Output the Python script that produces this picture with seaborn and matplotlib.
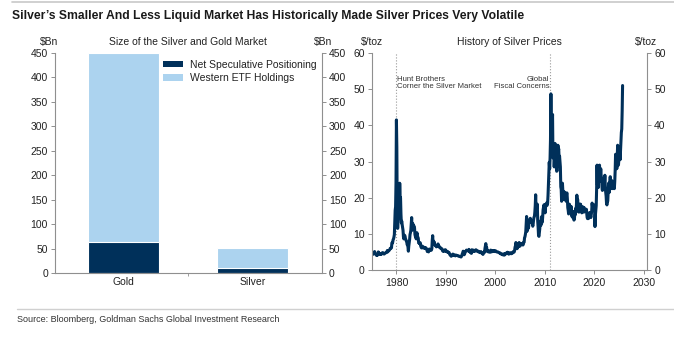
import matplotlib
matplotlib.use("Agg")
import matplotlib.pyplot as plt
from matplotlib.lines import Line2D
from matplotlib.patches import Patch
import numpy as np
import pandas as pd
import seaborn as sns

# ---- data -------------------------------------------------------------
metals = ["Gold", "Silver"]
net_speculative = [64, 11]        # $Bn
western_etf = [386, 41]           # $Bn

series_labels = ["Net Speculative Positioning", "Western ETF Holdings"]

# Monthly silver price, $/toz, Jan 1975 onwards
start_year = 1975
silver_price = [
    4.2, 4.4, 4.5, 4.4, 4.6, 4.5, 4.7, 5.1, 4.5, 4.4, 4.3, 4.2,          # 1975
    4.0, 4.2, 4.1, 4.5, 5.0, 4.6, 4.7, 4.3, 4.3, 4.3, 4.5, 4.4,          # 1976
    4.4, 4.5, 4.8, 4.8, 4.6, 4.5, 4.4, 4.5, 4.6, 4.7, 4.8, 4.8,          # 1977
    4.9, 5.0, 5.4, 5.0, 5.2, 5.3, 5.4, 5.5, 5.7, 6.0, 6.0, 6.1,          # 1978
    6.1, 7.5, 7.4, 7.7, 8.4, 8.6, 9.1, 9.8, 13.5, 16.5, 17.5, 24.0,      # 1979
    41.5, 34.0, 15.0, 11.5, 13.5, 16.5, 15.5, 16.0, 24.0, 19.5, 20.0, 15.5,  # 1980
    13.0, 13.5, 12.5, 11.8, 11.0, 9.2, 8.6, 9.4, 9.6, 9.3, 8.6, 8.4,     # 1981
    8.0, 7.9, 7.0, 7.0, 6.4, 5.2, 6.6, 7.4, 8.4, 9.8, 10.3, 11.0,        # 1982
    13.0, 14.5, 11.0, 12.5, 12.8, 11.6, 12.2, 12.1, 11.6, 9.8, 9.3, 9.3, # 1983
    8.6, 9.7, 10.3, 9.2, 9.1, 8.8, 7.5, 7.6, 7.3, 7.3, 7.5, 6.6,         # 1984
    6.3, 6.1, 6.6, 6.6, 6.2, 6.1, 6.1, 6.3, 6.1, 6.2, 6.1, 5.9,          # 1985
    6.1, 5.8, 5.6, 5.1, 5.2, 5.1, 5.0, 5.3, 5.8, 5.6, 5.5, 5.4,          # 1986
    5.5, 5.5, 5.9, 8.2, 9.5, 7.3, 8.0, 7.3, 7.7, 7.1, 6.8, 6.8,          # 1987
    6.6, 6.4, 6.5, 6.7, 6.8, 7.2, 6.9, 6.6, 6.3, 6.3, 6.3, 6.1,          # 1988
    5.9, 5.9, 5.9, 5.8, 5.3, 5.2, 5.3, 5.2, 5.2, 5.2, 5.6, 5.6,          # 1989
    5.3, 5.3, 5.1, 5.0, 5.1, 4.9, 4.9, 4.9, 4.8, 4.4, 4.2, 4.2,          # 1990
    4.0, 3.8, 3.9, 4.0, 4.1, 4.4, 4.3, 4.0, 4.1, 4.1, 4.1, 3.9,          # 1991
    4.1, 4.1, 4.1, 4.0, 4.0, 4.0, 3.9, 3.8, 3.8, 3.8, 3.7, 3.7,          # 1992
    3.7, 3.6, 3.8, 4.2, 4.5, 4.6, 5.2, 4.9, 4.2, 4.3, 4.6, 5.0,          # 1993
    5.1, 5.3, 5.5, 5.4, 5.4, 5.4, 5.3, 5.2, 5.7, 5.3, 5.2, 4.9,          # 1994
    4.8, 5.2, 4.6, 5.6, 5.5, 5.2, 5.1, 5.5, 5.3, 5.4, 5.2, 5.2,          # 1995
    5.5, 5.6, 5.5, 5.4, 5.3, 5.1, 5.1, 5.2, 5.0, 4.9, 4.9, 4.8,          # 1996
    4.8, 5.1, 4.9, 4.7, 4.8, 4.7, 4.3, 4.5, 4.8, 5.0, 4.9, 6.0,          # 1997
    6.6, 7.3, 6.2, 6.3, 5.2, 5.2, 5.4, 5.0, 5.2, 5.1, 5.0, 4.9,          # 1998
    5.1, 5.5, 5.2, 5.0, 5.3, 5.1, 5.3, 5.2, 5.2, 5.4, 5.1, 5.2,          # 1999
    5.2, 5.3, 5.1, 5.0, 5.0, 5.0, 5.0, 4.9, 4.9, 4.8, 4.7, 4.7,          # 2000
    4.7, 4.5, 4.4, 4.4, 4.4, 4.4, 4.2, 4.2, 4.4, 4.3, 4.1, 4.5,          # 2001
    4.5, 4.4, 4.6, 4.6, 4.8, 4.9, 4.9, 4.5, 4.6, 4.4, 4.5, 4.7,          # 2002
    4.8, 4.6, 4.5, 4.5, 4.6, 4.6, 4.9, 5.0, 5.1, 4.9, 5.0, 5.5,          # 2003
    6.3, 6.7, 7.6, 7.0, 5.9, 5.9, 6.4, 6.8, 6.4, 7.3, 7.6, 6.8,          # 2004
    6.6, 7.3, 7.2, 7.0, 7.2, 7.3, 7.1, 6.9, 7.1, 7.7, 7.7, 8.9,          # 2005
    9.2, 9.8, 10.6, 12.8, 14.8, 10.7, 11.2, 12.3, 11.5, 11.9, 13.8, 13.5,    # 2006
    13.2, 14.3, 13.2, 13.8, 13.3, 13.2, 12.8, 12.1, 12.8, 13.9, 14.6, 14.8,  # 2007
    16.0, 17.8, 20.8, 16.8, 17.0, 17.1, 18.2, 13.5, 11.8, 9.5, 9.3, 10.5,    # 2008
    11.4, 13.5, 13.0, 12.4, 14.7, 14.5, 13.2, 14.6, 16.6, 17.3, 18.0, 17.2,  # 2009
    18.0, 15.8, 17.3, 18.2, 18.4, 18.6, 17.9, 18.4, 20.6, 23.7, 27.6, 29.8,  # 2010
    28.0, 31.0, 36.0, 48.7, 37.0, 35.5, 40.0, 43.0, 31.0, 32.5, 33.0, 28.5,  # 2011
    31.0, 35.0, 33.0, 31.3, 28.5, 27.3, 27.4, 29.0, 34.5, 33.0, 33.5, 30.5,  # 2012
    31.5, 30.0, 28.5, 23.0, 22.3, 19.0, 19.8, 24.0, 21.8, 21.8, 20.5, 19.5,  # 2013
    20.0, 21.5, 20.5, 19.5, 19.0, 21.0, 21.3, 19.6, 17.2, 16.5, 15.5, 16.0,  # 2014
    18.2, 16.8, 16.0, 16.5, 17.6, 15.6, 14.8, 15.5, 14.5, 16.2, 14.3, 13.8,  # 2015
    14.0, 15.5, 15.3, 17.0, 16.0, 18.0, 20.7, 19.0, 19.5, 17.6, 17.0, 16.0,  # 2016
    16.9, 18.2, 17.8, 18.2, 16.6, 16.6, 15.8, 17.0, 17.5, 16.8, 17.2, 16.0,  # 2017
    17.2, 16.5, 16.5, 16.5, 16.5, 16.8, 15.6, 14.5, 14.2, 14.6, 14.2, 15.0,  # 2018
    15.7, 15.9, 15.2, 15.0, 14.5, 15.3, 16.2, 18.5, 17.6, 17.8, 17.0, 17.2,  # 2019
    18.0, 17.5, 12.0, 15.2, 16.5, 17.8, 22.5, 29.0, 23.5, 24.3, 22.8, 26.3,  # 2020
    27.0, 29.0, 24.5, 26.0, 28.0, 26.0, 25.5, 23.0, 22.0, 24.5, 23.2, 22.5,  # 2021
    22.5, 24.0, 26.2, 23.0, 21.5, 20.5, 18.5, 18.0, 19.0, 19.0, 21.5, 24.0,  # 2022
    24.0, 21.5, 24.0, 25.8, 23.5, 22.5, 24.8, 24.2, 22.5, 23.0, 24.5, 23.5,  # 2023
    22.5, 22.5, 24.5, 27.5, 32.0, 29.5, 31.0, 28.0, 31.5, 34.5, 30.5, 29.0,  # 2024
    31.0, 32.5, 34.0, 30.5, 33.0, 36.0, 38.0, 39.0, 44.0, 51.0,              # 2025
]

event_years = [1980.0, 2011.0]
event_labels = ["Hunt Brothers\nCorner the Silver Market", "Global\nFiscal Concerns"]

# ---- style ------------------------------------------------------------
navy = "#00305a"
light_blue = "#acd3ef"
axis_grey = "#8f8f8f"
text_col = "#222222"

sns.set_theme(style="white")
plt.rcParams["font.family"] = ["Liberation Sans", "DejaVu Sans"]

W, H = 674, 337
fig = plt.figure(figsize=(W / 100, H / 100), dpi=100)
fig.patch.set_facecolor("white")


def fx(px):
    return px / W


def fy(py):
    return 1 - py / H


ax1 = fig.add_axes([fx(55), fy(273.3), fx(322 - 55), (273.3 - 52.7) / H])
ax2 = fig.add_axes([fx(371.7), fy(270), fx(647.3 - 371.7), (270 - 53) / H])


def style_axis(ax):
    for side in ("left", "right", "bottom"):
        ax.spines[side].set_visible(True)
        ax.spines[side].set_color(axis_grey)
        ax.spines[side].set_linewidth(0.8)
    ax.spines["top"].set_visible(False)
    ax.tick_params(axis="y", which="both", left=True, right=True,
                   labelleft=True, labelright=True, direction="out",
                   length=3, width=0.7, color=axis_grey, labelsize=7.5,
                   labelcolor=text_col, pad=2)
    ax.set_xlabel("")
    ax.set_ylabel("")
    ax.grid(False)


# ---- left: market size bars -------------------------------------------
bars = pd.DataFrame({
    "metal": metals,
    "net": net_speculative,
    "total": np.array(net_speculative) + np.array(western_etf),
})
sns.barplot(data=bars, x="metal", y="total", color=light_blue, saturation=1,
            width=0.553, edgecolor="white", linewidth=0.8, errorbar=None, ax=ax1)
sns.barplot(data=bars, x="metal", y="net", color=navy, saturation=1,
            width=0.553, edgecolor="white", linewidth=0.8, errorbar=None, ax=ax1)
ax1.set_xlim(-0.529, 1.538)
ax1.set_ylim(0, 450)
ax1.set_yticks(np.arange(0, 451, 50))
style_axis(ax1)
ax1.tick_params(axis="x", which="major", length=0, labelsize=7.5,
                labelcolor=text_col, pad=3)
ax1.set_xticks([0.5], minor=True)
ax1.tick_params(axis="x", which="minor", bottom=True, length=2, width=0.6,
                color=axis_grey)

handles = [Patch(facecolor=navy, edgecolor="none"),
           Patch(facecolor=light_blue, edgecolor="none")]
ax1.legend(handles, series_labels, loc="upper left",
           bbox_to_anchor=(0.404, 0.968), frameon=False, fontsize=7.5,
           handlelength=1.9, handleheight=0.6, handletextpad=0.75,
           labelspacing=0.35, borderpad=0, borderaxespad=0,
           labelcolor=text_col)

# ---- right: silver price history --------------------------------------
months = np.arange(len(silver_price))
prices = pd.DataFrame({
    "year": start_year + months / 12.0,
    "price": silver_price,
})
sns.lineplot(data=prices, x="year", y="price", color=navy, linewidth=2.2, ax=ax2)
ax2.set_xlim(1975, 2030.75)
ax2.set_ylim(0, 60)
ax2.set_yticks(np.arange(0, 61, 10))
ax2.set_xticks(np.arange(1980, 2031, 10))
style_axis(ax2)
ax2.tick_params(axis="x", which="major", bottom=True, direction="out",
                length=3, width=0.7, color=axis_grey, labelsize=7.5,
                labelcolor=text_col, pad=3)

for yr in event_years:
    ax2.axvline(yr, color="#9a9a9a", linestyle=":", linewidth=0.8, zorder=0)
ax2.text(event_years[0] + 0.1, 51.7, event_labels[0], ha="left", va="center",
         fontsize=5.6, color="#333333", linespacing=1.0)
ax2.text(event_years[1] - 0.1, 51.7, event_labels[1], ha="right", va="center",
         fontsize=5.6, color="#333333", linespacing=1.0, multialignment="right")

# ---- panel headers and unit labels ------------------------------------
hdr_y = fy(42)
fig.text(fx(49), hdr_y, "$Bn", ha="center", va="center", fontsize=7.5, color=text_col)
fig.text(fx(323), hdr_y, "$Bn", ha="center", va="center", fontsize=7.5, color=text_col)
fig.text(fx(188), hdr_y, "Size of the Silver and Gold Market", ha="center",
         va="center", fontsize=7.5, color=text_col)
fig.text(fx(372.5), hdr_y, "$/toz", ha="center", va="center", fontsize=7.5, color=text_col)
fig.text(fx(646.5), hdr_y, "$/toz", ha="center", va="center", fontsize=7.5, color=text_col)
fig.text(fx(509), hdr_y, "History of Silver Prices", ha="center", va="center",
         fontsize=7.5, color=text_col)

# ---- figure title, rules and source ------------------------------------
fig.add_artist(Line2D([fx(12), 1], [fy(2), fy(2)], color="#c8c8c8", linewidth=1.2))
fig.text(fx(12), fy(16), "Silver\u2019s Smaller And Less Liquid Market Has Historically Made Silver Prices Very Volatile",
         ha="left", va="center", fontsize=8.7, fontweight="bold",
         color="#1a1a1a")
fig.add_artist(Line2D([fx(17), 1], [fy(309), fy(309)], color="#d0d0d0", linewidth=1.0))
fig.text(fx(17), fy(320), "Source: Bloomberg, Goldman Sachs Global Investment Research",
         ha="left", va="center", fontsize=6.5, color="#333333")

fig.savefig("out.png", dpi=100, facecolor="white")
